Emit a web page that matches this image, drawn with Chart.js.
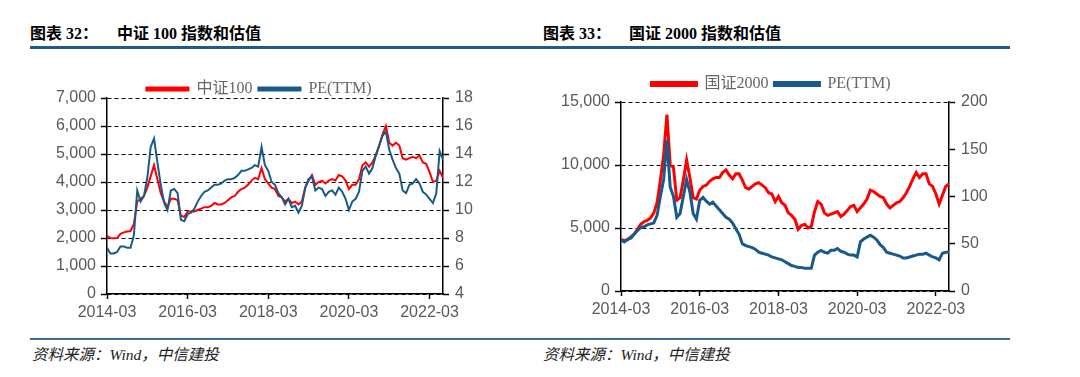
<!DOCTYPE html>
<html><head><meta charset="utf-8">
<script src="https://cdn.jsdelivr.net/npm/chart.js@4.4.1/dist/chart.umd.min.js"></script>
<style>
html,body{margin:0;padding:0;background:#fff;width:1080px;height:377px;overflow:hidden;position:relative;}
.t{position:absolute;top:20px;font:bold 16px 'Liberation Serif','Noto Sans CJK SC',serif;color:#000;white-space:nowrap;}
.rule{position:absolute;top:46px;height:3px;background:#1E5A8E;}
.frule{position:absolute;top:338px;height:2px;background:#3A6A9C;}
.src{position:absolute;top:342px;font:italic 15.5px 'Liberation Serif','Noto Sans CJK SC',serif;color:#222;white-space:nowrap;}
.box{position:absolute;}
</style></head><body>
<div class="t" style="left:30px">图表 32：</div>
<div class="t" style="left:117px">中证 100 指数和估值</div>
<div class="t" style="left:543px">图表 33：</div>
<div class="t" style="left:629px">国证 2000 指数和估值</div>
<div class="rule" style="left:30px;width:510px"></div>
<div class="rule" style="left:540px;width:470px"></div>
<div class="box" style="left:30px;top:62px;width:458px;height:268px"><canvas id="c1"></canvas></div>
<div class="box" style="left:545px;top:62px;width:452px;height:265px"><canvas id="c2"></canvas></div>
<div class="frule" style="left:30px;width:510px"></div>
<div class="frule" style="left:540px;width:470px"></div>
<div class="src" style="left:32px">资料来源：Wind，中信建投</div>
<div class="src" style="left:543px">资料来源：Wind，中信建投</div>
<script>
// month categories 2014-03 .. 2022-07
const months = [];
for (let y = 2014, m = 3; y < 2022 || (y === 2022 && m <= 7); ) {
  months.push(y + '-' + String(m).padStart(2, '0'));
  m++; if (m > 12) { m = 1; y++; }
}
const xTickLabels = ['2014-03', '2016-03', '2018-03', '2020-03', '2022-03'];

const zz100 = [2080,2000,1990,2000,2150,2200,2230,2250,2500,3300,
3400,3500,3800,4200,4600,4100,3600,3300,3100,3400,
3400,3350,2800,2750,2950,2950,2950,3000,3050,3100,
3100,3150,3250,3200,3200,3250,3350,3450,3500,3650,
3750,3800,3900,4050,4150,4100,4500,4100,3950,3800,
3750,3500,3450,3300,3400,3250,3300,3200,3300,3800,
4050,4250,3900,4000,4050,3950,4050,4100,4050,4250,
4200,4050,3750,3900,3900,4100,4600,4700,4550,4700,
4950,5300,5700,6000,5400,5300,5400,5300,4850,4800,
4850,4900,4850,4950,4700,4650,4350,4000,4050,4400,
4150];
const zz100PE = [7.3,6.9,6.9,7.0,7.4,7.4,7.3,7.3,8.2,11.4,
10.6,11.0,12.3,14.5,15.1,13.4,11.8,10.5,10.0,11.4,
11.5,11.2,9.3,9.2,9.7,9.8,10.1,10.6,11.0,11.3,
11.4,11.6,11.8,11.8,11.9,12.1,12.2,12.2,12.3,12.5,
12.8,12.8,12.9,13.0,13.2,13.1,14.5,13.2,12.8,12.0,
11.8,11.2,10.9,10.4,10.8,10.2,10.3,9.8,10.3,11.6,
12.2,12.4,11.4,11.6,11.5,11.0,11.3,11.4,11.1,11.6,
11.3,10.8,10.0,10.6,10.8,11.3,12.8,13.1,12.6,13.0,
13.9,14.6,15.3,15.6,14.3,13.6,13.0,12.6,11.4,11.2,
11.8,11.9,12.2,11.9,11.3,11.1,10.8,10.5,11.2,14.2,
13.6];
const gz2000 = [4100,4000,4050,4300,4500,4900,5300,5500,5600,5800,
6200,7000,8800,10800,14000,10000,9800,7200,7400,8800,
10400,9000,7400,7300,8000,8300,8400,8700,8900,9000,
9000,9400,9600,9200,8900,9300,9300,8800,8200,8100,
8300,8500,8600,8400,8200,7800,7700,7100,7500,7000,
6800,6200,6000,5700,4900,5200,5300,5000,5100,6300,
7100,6900,6200,6000,6100,6200,6300,5900,6100,6400,
6700,6800,6300,6600,6900,7300,8000,7900,7700,7500,
7400,6900,6600,6800,7000,7100,7400,7800,8300,8900,
9400,9000,9300,9300,8500,8300,7700,6900,7600,8300,
8500];
const gz2000PE = [54,52,55,56,60,64,67,68,70,71,
72,80,100,118,160,110,100,78,82,100,
118,105,82,76,96,99,95,92,94,90,
86,82,78,76,72,66,60,50,48,47,
46,44,41,40,39,38,36,35,34,33,
31,29,27,26,25,25,24,24,24,38,
41,43,41,40,43,43,45,42,41,39,
38,38,36,52,55,57,59,57,54,49,
46,41,40,39,38,37,35,35,36,37,
38,39,39,40,38,36,35,33,40,41,
41];

const RED = '#FF0000', BLUE = '#185A8A';
const tickFont = {family: "'Liberation Sans', Arial, sans-serif", size: 16};
const tickColor = '#595959';
const toXY = arr => arr.map((v, i) => ({x: i, y: v}));

// lets each chart shift the space kept under its legend
const legendGap = {
  id: 'legendGap',
  beforeInit(chart, args, opts) {
    const fit = chart.legend.fit;
    chart.legend.fit = function () { fit.call(this); this.height += (opts.extra || 0); };
  }
};

function build(id, cfg) {
  return new Chart(document.getElementById(id), {
    type: 'line',
    plugins: [legendGap],
    data: {
      datasets: [
        {label: cfg.names[0], data: toXY(cfg.s1), yAxisID: 'y', borderColor: RED, backgroundColor: RED,
         borderWidth: cfg.lw, pointRadius: 0, tension: 0, order: 2},
        {label: cfg.names[1], data: toXY(cfg.s2), yAxisID: 'y1', borderColor: BLUE, backgroundColor: BLUE,
         borderWidth: cfg.lw, pointRadius: 0, tension: 0, order: 1}
      ]
    },
    options: {
      responsive: true, maintainAspectRatio: false, animation: false,
      layout: {padding: {top: cfg.padTop, left: 0, right: 0, bottom: 0}},
      plugins: {
        tooltip: {enabled: false},
        legendGap: {extra: cfg.legendExtra},
        legend: {
          position: 'top', align: 'center',
          labels: {
            boxWidth: cfg.boxW, boxHeight: 3, padding: 6, color: '#666',
            font: {family: "'Liberation Serif', 'Noto Sans CJK SC', serif", size: 16},
            sort: (a, b) => a.datasetIndex - b.datasetIndex
          }
        }
      },
      scales: {
        x: {
          type: 'linear', min: 0, max: months.length - 1,
          afterBuildTicks: s => { s.ticks = s.ticks.filter(t => xTickLabels.includes(months[t.value])); },
          afterFit: s => { s.height = 36; },
          ticks: {stepSize: 1, autoSkip: false, maxRotation: 0, minRotation: 0, padding: 4,
                  color: tickColor, font: tickFont, callback: v => months[v]},
          grid: {drawOnChartArea: false, drawTicks: true, tickLength: 5, tickColor: '#000', tickWidth: 1.5},
          border: {display: true, color: '#000', width: 1.5}
        },
        y: {
          position: 'left', min: cfg.lMin, max: cfg.lMax,
          afterFit: s => { s.width = cfg.lW; },
          ticks: {stepSize: cfg.lStep, padding: 5, color: tickColor, font: tickFont},
          grid: {color: '#000', lineWidth: 1, drawTicks: true, tickLength: 6, tickColor: '#000', tickWidth: 1.5, tickBorderDash: []},
          border: {display: true, color: '#000', width: 1.5, dash: [4, 3]}
        },
        y1: {
          position: 'right', min: cfg.rMin, max: cfg.rMax,
          afterFit: s => { s.width = cfg.rW; },
          ticks: {stepSize: cfg.rStep, padding: 6, color: tickColor, font: tickFont},
          grid: {drawOnChartArea: false, drawTicks: true, tickLength: 6, tickColor: '#000', tickWidth: 1.5},
          border: {display: true, color: '#000', width: 1.5}
        }
      },
      locale: 'en-US'
    }
  });
}

build('c1', {names: ['中证100', 'PE(TTM)'], s1: zz100, s2: zz100PE, lw: 2, padTop: 13, legendExtra: -9, boxW: 42,
  lMin: 0, lMax: 7000, lStep: 1000, lW: 77, rMin: 4, rMax: 18, rStep: 2, rW: 45});
build('c2', {names: ['国证2000', 'PE(TTM)'], s1: gz2000, s2: gz2000PE, lw: 3, padTop: 8, legendExtra: 0, boxW: 45,
  lMin: 0, lMax: 15000, lStep: 5000, lW: 76, rMin: 0, rMax: 200, rStep: 50, rW: 48});
</script>
</body></html>
